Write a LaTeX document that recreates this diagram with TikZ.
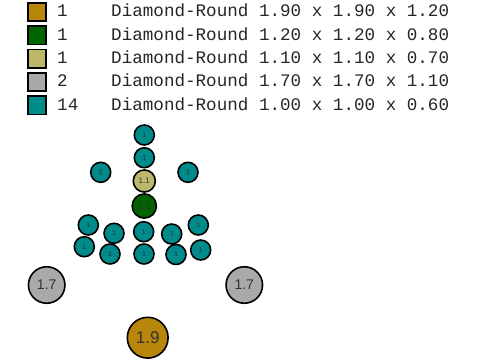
\documentclass[tikz,border=0pt]{standalone}
\usepackage{fontspec}
\setmainfont{Liberation Sans}
\newfontfamily\mono{Liberation Mono}
\definecolor{cOr}{HTML}{B8860B}
\definecolor{cVert}{HTML}{006400}
\definecolor{cKaki}{HTML}{BDB76B}
\definecolor{cGris}{HTML}{A9A9A9}
\definecolor{cCyan}{HTML}{008B8B}

\begin{document}
\begin{tikzpicture}[x=1pt,y=-1pt]
%styles : billes, carrés de légende et texte de légende
\tikzset{bille/.style={circle,draw=black,line width=1.6pt,inner sep=0pt,text=black!80}}
\tikzset{carre/.style={draw=black,line width=1.6pt,minimum size=18.5pt,inner sep=0pt}}
\tikzset{legende/.style={anchor=base west,inner sep=0pt,text=black!85,font=\mono\fontsize{17.6}{20}\selectfont}}
\useasboundingbox (0,0) rectangle (480,360);

%légende
\node[carre,fill=cOr] (c1) at (37,12) {};
\node[legende] (n1) at (57,16.7) {1};
\node[legende] (l1) at (111,16.7) {Diamond-Round 1.90 x 1.90 x 1.20};
\node[carre,fill=cVert] (c2) at (37,35.3) {};
\node[legende] (n2) at (57,40) {1};
\node[legende] (l2) at (111,40) {Diamond-Round 1.20 x 1.20 x 0.80};
\node[carre,fill=cKaki] (c3) at (37,58.6) {};
\node[legende] (n3) at (57,63.3) {1};
\node[legende] (l3) at (111,63.3) {Diamond-Round 1.10 x 1.10 x 0.70};
\node[carre,fill=cGris] (c4) at (37,82) {};
\node[legende] (n4) at (57,86.6) {2};
\node[legende] (l4) at (111,86.6) {Diamond-Round 1.70 x 1.70 x 1.10};
\node[carre,fill=cCyan] (c5) at (37,105.3) {};
\node[legende] (n5) at (57,110) {14};
\node[legende] (l5) at (111,110) {Diamond-Round 1.00 x 1.00 x 0.60};

%petites pierres (1.00)
\foreach \x/\y [count=\i] in {144.3/135,144.3/157.7,100.7/172.3,188/172.3,
  88.3/225,114/233.3,143.7/231.7,171.7/234,198.3/225,
  84.3/246.7,110/254,144/254,176/254.5,200.7/250}
  \node[bille,fill=cCyan,minimum size=20pt,font=\fontsize{7}{8}\selectfont] (p\i) at (\x,\y) {1};

%pierres du centre
\node[bille,fill=cKaki,minimum size=22.1pt,font=\fontsize{8}{9}\selectfont] (k1) at (144.3,181) {1.1};
\node[bille,fill=cVert,minimum size=24.2pt,font=\fontsize{10.5}{12}\selectfont] (v1) at (144.3,206) {1.2};

%grosses pierres
\node[bille,fill=cGris,minimum size=36.5pt,font=\fontsize{14}{16}\selectfont] (g1) at (46.7,285) {1.7};
\node[bille,fill=cGris,minimum size=36.5pt,font=\fontsize{14}{16}\selectfont] (g2) at (244.3,285) {1.7};
\node[bille,fill=cOr,minimum size=40.8pt,font=\fontsize{17}{19}\selectfont] (o1) at (147.7,337.7) {1.9};
\end{tikzpicture}
\end{document}
